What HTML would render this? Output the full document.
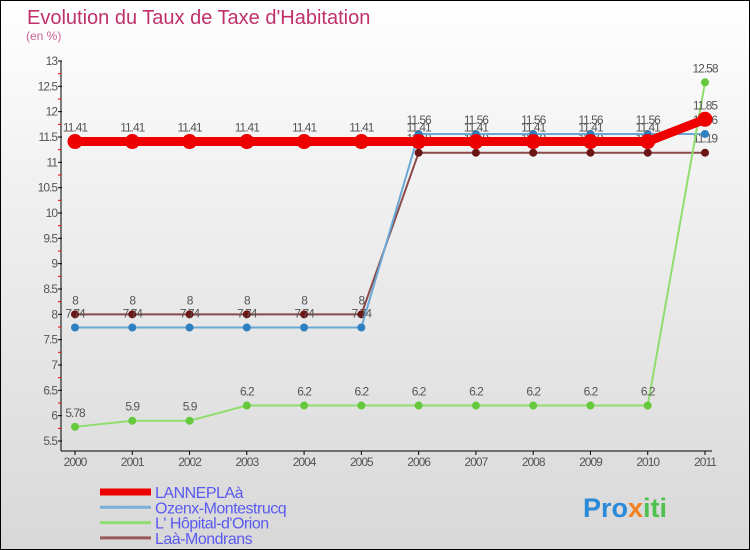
<!DOCTYPE html>
<html><head><meta charset="utf-8"><style>
body{margin:0}
#c{width:750px;height:550px;position:relative;box-sizing:border-box;border:1px solid #000;background:linear-gradient(#fff,#f2f2f2 30%,#d8d8d8);font-family:"Liberation Sans","DejaVu Sans",sans-serif;overflow:hidden}
</style></head><body>
<div id="c">
<svg id="s" width="750" height="550" style="position:absolute;left:-1px;top:-1px"></svg>
</div>
<script>
const years=["2000","2001","2002","2003","2004","2005","2006","2007","2008","2009","2010","2011"];
const yTicks=[5.5,6,6.5,7,7.5,8,8.5,9,9.5,10,10.5,11,11.5,12,12.5,13];
const lannepla=[11.41,11.41,11.41,11.41,11.41,11.41,11.41,11.41,11.41,11.41,11.41,11.85];
const ozenx=[7.74,7.74,7.74,7.74,7.74,7.74,11.56,11.56,11.56,11.56,11.56,11.56];
const hopital=[5.78,5.9,5.9,6.2,6.2,6.2,6.2,6.2,6.2,6.2,6.2,12.58];
const laa=[8,8,8,8,8,8,11.19,11.19,11.19,11.19,11.19,11.19];
const seriesNames=["LANNEPLAà","Ozenx-Montestrucq","L' Hôpital-d'Orion","Laà-Mondrans"];
const NS="http://www.w3.org/2000/svg",s=document.getElementById('s');
const X=i=>75+i*(630/11), Y=v=>441-(v-5.5)*(380/7.5);
function el(t,a,txt){const e=document.createElementNS(NS,t);for(const k in a)e.setAttribute(k,a[k]);if(txt!=null)e.textContent=txt;s.appendChild(e);return e;}
let t=el('text',{x:27,y:24,'font-size':20,fill:'#c0306a'},'Evolution du Taux de Taxe d\'Habitation');

t=el('text',{x:26,y:40,'font-size':12,fill:'#c86090'},'(en %)');

let a=el('line',{x1:61,y1:61,x2:61,y2:451,stroke:'#000'});
a=el('line',{x1:61,y1:451,x2:712,y2:451,stroke:'#000'});
yTicks.forEach((v,i)=>{const y=Y(v);el('line',{x1:58,y1:y,x2:62,y2:y,stroke:'#000'});
 if(i<yTicks.length-1)el('line',{x1:58,y1:Y(v+0.25),x2:61,y2:Y(v+0.25),stroke:'#e00'});
 const l=el('text',{x:57,y:y+4,'font-size':12,fill:'#555','text-anchor':'end','letter-spacing':'-1'},String(v));
 });
years.forEach((yr,i)=>{el('line',{x1:X(i),y1:451,x2:X(i),y2:455,stroke:'#000'});
 const l=el('text',{x:X(i),y:466,'font-size':12,fill:'#555','text-anchor':'middle','letter-spacing':'-1'},yr);
 });
function series(d,col,w,r,name,dark){
 const p=el('polyline',{points:d.map((v,i)=>X(i)+','+Y(v)).join(' '),fill:'none',stroke:col,'stroke-width':w});
 
 d.forEach((v,i)=>{const c=el('circle',{cx:X(i),cy:Y(v),r:r,fill:dark,stroke:dark});
  
  const l=el('text',{x:X(i),y:Y(v)-10,'font-size':12,fill:'#555','text-anchor':'middle','letter-spacing':'-1'},String(v));
  });
}
series(laa,'#8b4a4a',2,3.5,'laa-mondrans','#6b1515');
series(ozenx,'#6aa8d8',2,3.5,'ozenx-montestrucq','#2f80c0');
series(hopital,'#90dd70',2,3.5,'hopital-orion','#66c83c');
series(lannepla,'#ee0000',9,7,'lannepla','#ee0000');
const lc=['#ee0000','#7ab0d8','#90dd70','#9a5a5a'],lw=[7,3,3,3];
seriesNames.forEach((n,i)=>{const y=492+i*15.3;
 const g=el('line',{x1:100,y1:y,x2:151,y2:y,stroke:lc[i],'stroke-width':lw[i]});
 const l=el('text',{x:155,y:y+6,'font-size':16,fill:'#5a5af0','letter-spacing':'-0.5'},n);
 });
const lg=el('text',{x:583,y:517,'font-size':27,'font-weight':'bold',fill:'#f0a020'},'');

[['Pro','#2a8ad8'],['x','#f08020'],['iti','#50c050']].forEach(([tx,c])=>{const ts=document.createElementNS(NS,'tspan');ts.setAttribute('fill',c);ts.textContent=tx;lg.appendChild(ts);});
</script>
</body></html>
